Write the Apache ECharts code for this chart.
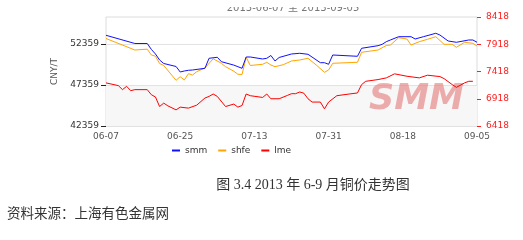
<!DOCTYPE html>
<html>
<head>
<meta charset="utf-8">
<script src="https://cdn.jsdelivr.net/npm/echarts@6/dist/echarts.min.js"></script>
<style>
html,body{margin:0;padding:0;background:#fff;}
#c{width:523px;height:240px;}
</style>
</head>
<body>
<div id="c"></div>
<script>
// ---- data ----
const xTickLabels = ['06-07','06-25','07-13','07-31','08-18','09-05'];
const leftTicks = [42359, 47359, 52359];
const rightTicks = [6418, 6918, 7418, 7918, 8418];

const smmDates = ['06-07','06-14','06-17','06-18','06-19','06-20','06-21','06-24','06-25','06-26','06-27','06-28','07-01','07-02','07-04','07-05','07-08','07-09','07-10','07-11','07-12','07-15','07-16','07-17','07-18','07-19','07-22','07-24','07-26','07-29','07-30','07-31','08-01','08-07','08-08','08-12','08-13','08-14','08-15','08-17','08-20','08-21','08-23','08-26','08-27','08-29','08-31','09-03','09-04','09-05'];
const smmValues = [53420,52420,52420,51700,51139,50408,49981,49615,48944,49066,49152,49188,49395,50615,50737,50200,49785,49590,49395,50774,50774,50530,50615,50956,50286,50712,51139,51225,51103,50078,50078,49883,51017,50859,51835,52152,52322,52640,52847,53249,53249,52969,53249,53664,53456,52725,52566,52847,52847,52566];

const shfeDates = ['06-07','06-14','06-17','06-18','06-19','06-20','06-21','06-24','06-25','06-26','06-27','06-28','06-29','07-01','07-03','07-05','07-06','07-08','07-09','07-10','07-11','07-12','07-15','07-16','07-17','07-18','07-20','07-22','07-24','07-26','07-28','07-30','07-31','08-01','08-07','08-08','08-12','08-14','08-15','08-17','08-19','08-20','08-22','08-24','08-26','08-28','08-30','08-31','09-02','09-04','09-05'];
const shfeValues = [53030,51627,51725,51017,50871,49981,49737,47932,48371,47969,48737,48578,48981,49432,50554,50005,49590,49042,48664,48640,50737,49737,49883,50127,49798,49590,49834,50286,50408,50615,49798,48908,49188,50005,50127,51347,51627,52176,52237,53127,52969,52237,52640,52932,53249,52322,52322,51957,52566,52444,52115];

const lmeDates = ['06-07','06-10','06-11','06-12','06-13','06-14','06-17','06-18','06-19','06-20','06-21','06-22','06-24','06-25','06-27','06-29','07-01','07-02','07-03','07-04','07-06','07-08','07-09','07-10','07-11','07-12','07-15','07-16','07-17','07-19','07-21','07-22','07-23','07-24','07-25','07-26','07-27','07-29','07-30','07-31','08-02','08-05','08-07','08-08','08-09','08-12','08-14','08-16','08-19','08-22','08-24','08-27','08-28','08-30','08-31','09-02','09-03','09-04'];
const lmeValues = [7209,7159,7085,7146,7066,7085,7085,6992,6950,6775,6838,6788,6714,6764,6746,6800,6931,6961,7005,6961,6775,6820,6764,6794,7005,6974,6942,7005,6918,6918,6979,7011,7011,7042,7020,6918,6857,6857,6733,6857,6974,7005,7024,7177,7238,7270,7301,7375,7331,7301,7350,7325,7288,7177,7127,7209,7238,7238];

const seriesNames = ['smm','shfe','lme'];
const titleText = '2013-06-07 至 2013-09-05';
const captionText = '图 3.4 2013 年 6-9 月铜价走势图';
const sourceText = '资料来源：上海有色金属网';

// ---- helpers ----
const day0 = Date.UTC(2013, 5, 7);
function dayIndex(s){ const p = s.split('-'); return (Date.UTC(2013, +p[0]-1, +p[1]) - day0) / 86400000; }
function pairs(dates, vals){ return dates.map((d,i)=>[dayIndex(d), vals[i]]); }
const xMax = dayIndex(xTickLabels[xTickLabels.length-1]);
const xStep = dayIndex(xTickLabels[1]);

const chart = echarts.init(document.getElementById('c'), null, {renderer:'canvas'});
const lab = {fontFamily:'"DejaVu Sans", Arial, sans-serif', fontSize:9};

chart.setOption({
  animation:false,
  backgroundColor:'#fff',
  grid:{left:106, right:46, top:17, height:109, show:true, borderColor:'#dcdcdc', borderWidth:1, backgroundColor:'transparent'},
  legend:{
    data:seriesNames, left:172, top:146, padding:0, itemGap:11,
    icon:'rect', itemWidth:8, itemHeight:2,
    textStyle:Object.assign({color:'#333'}, lab)
  },
  xAxis:{
    type:'value', min:0, max:xMax, interval:xStep,
    axisLine:{show:false}, axisTick:{show:false}, splitLine:{show:false},
    axisLabel:Object.assign({color:'#555', margin:6, formatter:v=>xTickLabels[Math.round(v/xStep)]||''}, lab)
  },
  yAxis:[{
    type:'value', min:leftTicks[0], max:55650, interval:leftTicks[1]-leftTicks[0],
    name:'CNY/T', nameLocation:'middle', nameGap:42, nameRotate:90,
    nameTextStyle:Object.assign({color:'#555'}, lab),
    axisLine:{show:false},
    axisTick:{show:true, length:5, lineStyle:{color:'#222'}, customValues:leftTicks},
    axisLabel:Object.assign({color:'#333', margin:7, customValues:leftTicks, formatter:v=>String(v)}, lab),
    splitLine:{show:true, lineStyle:{color:'#e2e2e2'}},
    splitArea:{show:true, areaStyle:{color:['#f7f7f7','rgba(255,255,255,0)','rgba(255,255,255,0)']}}
  },{
    type:'value', min:rightTicks[0], max:rightTicks[rightTicks.length-1], interval:rightTicks[1]-rightTicks[0],
    position:'right',
    axisLine:{show:false},
    axisTick:{show:true, length:4, lineStyle:{color:'#ff2020'}},
    axisLabel:Object.assign({color:'#ff2020', margin:9, formatter:v=>String(v)}, lab),
    splitLine:{show:false}
  }],
  graphic:[
    {type:'text', left:369, top:82, z:1, silent:true,
     style:{text:'SMM', fill:'rgba(228,110,110,0.55)', font:'italic bold 35px "DejaVu Sans", Arial, sans-serif'}},
    {type:'text', x:293, y:8, z:50,
     style:{text:titleText, fill:'#777', font:'10px "DejaVu Sans", "Noto Sans CJK SC", sans-serif', align:'center', verticalAlign:'middle', textAlign:'center', textVerticalAlign:'middle'}},
    {type:'rect', shape:{x:0, y:0, width:523, height:7}, z:60, style:{fill:'#fff'}},
    {type:'text', x:313, y:185, z:50,
     style:{text:captionText, fill:'#333', font:'14px "Liberation Serif", "Noto Sans CJK SC", serif', align:'center', verticalAlign:'middle', textAlign:'center', textVerticalAlign:'middle'}},
    {type:'text', x:7, y:213, z:50,
     style:{text:sourceText, fill:'#333', font:'13.5px "Noto Sans CJK SC", serif', align:'left', verticalAlign:'middle', textAlign:'left', textVerticalAlign:'middle'}}
  ],
  series:[
    {name:seriesNames[0], type:'line', yAxisIndex:0, data:pairs(smmDates, smmValues), showSymbol:false, symbol:'none', z:4,
     lineStyle:{width:1, color:'#1010ff'}, itemStyle:{color:'#1010ff'}},
    {name:seriesNames[1], type:'line', yAxisIndex:0, data:pairs(shfeDates, shfeValues), showSymbol:false, symbol:'none', z:3,
     lineStyle:{width:1, color:'#ffa500'}, itemStyle:{color:'#ffa500'}},
    {name:seriesNames[2], type:'line', yAxisIndex:1, data:pairs(lmeDates, lmeValues), showSymbol:false, symbol:'none', z:3,
     lineStyle:{width:1, color:'#ff0000'}, itemStyle:{color:'#ff0000'}}
  ]
});
</script>
</body>
</html>
